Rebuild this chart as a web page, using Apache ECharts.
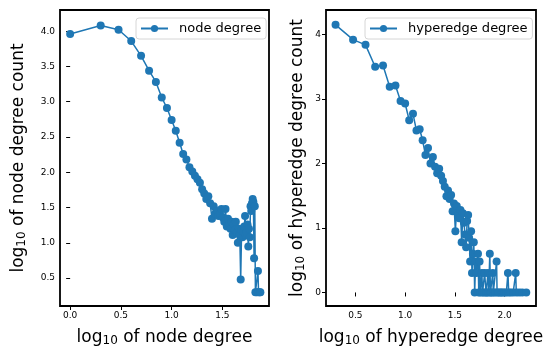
<!DOCTYPE html>
<html>
<head>
<meta charset="utf-8">
<script src="https://cdn.jsdelivr.net/npm/echarts@6/dist/echarts.min.js"></script>
<style>
  html, body { margin: 0; padding: 0; background: #fff; }
  #chart { width: 558px; height: 352px; }
</style>
</head>
<body>
<div id="chart"></div>
<script>
// left panel: log10(node degree) vs log10(count)
const nodeLogDegree = [
  0, 0.301, 0.477, 0.602, 0.699, 0.778, 0.845, 0.903, 0.954, 1,
  1.041, 1.079, 1.114, 1.146, 1.176, 1.204, 1.230, 1.255, 1.279, 1.301,
  1.322, 1.342, 1.362, 1.380, 1.398, 1.415, 1.431, 1.447, 1.462, 1.477,
  1.491, 1.505, 1.519, 1.531, 1.544, 1.556, 1.568, 1.580, 1.591, 1.602,
  1.613, 1.623, 1.633, 1.643, 1.653, 1.663, 1.672, 1.681, 1.690, 1.699,
  1.708, 1.716, 1.724, 1.732, 1.740, 1.748, 1.756, 1.763, 1.771, 1.778,
  1.785, 1.792, 1.799, 1.806, 1.813, 1.820, 1.826, 1.839, 1.851, 1.857,
  1.869, 1.875
];
const nodeLogCount = [
  3.96, 4.08, 4.02, 3.86, 3.65, 3.44, 3.28, 3.06, 2.91, 2.74,
  2.59, 2.42, 2.26, 2.18, 2.07, 2.01, 1.95, 1.90, 1.85, 1.76,
  1.70, 1.62, 1.66, 1.56, 1.34, 1.52, 1.41, 1.45, 1.38, 1.41,
  1.48, 1.36, 1.30, 1.48, 1.23, 1.34, 1.26, 1.20, 1.30, 1.11,
  1.26, 1.18, 1.30, 1.15, 1.00, 1.20, 1.11, 0.48, 1.18, 1.08,
  1.15, 1.23, 1.38, 1.11, 1.15, 1.26, 0.95, 1.20, 1.08, 1.52,
  1.45, 1.56, 1.62, 1.58, 0.78, 1.52, 0.30, 0.30, 0.60, 0.30,
  0.30, 0.30
];

// right panel: log10(hyperedge degree) vs log10(count)
const hyperLogDegree = [
  0.301, 0.477, 0.602, 0.699, 0.778, 0.845, 0.903, 0.954, 1, 1.041,
  1.079, 1.114, 1.146, 1.176, 1.204, 1.230, 1.255, 1.279, 1.301, 1.322,
  1.342, 1.362, 1.380, 1.398, 1.415, 1.431, 1.447, 1.462, 1.477, 1.491,
  1.505, 1.519, 1.531, 1.544, 1.556, 1.568, 1.580, 1.591, 1.602, 1.613,
  1.623, 1.633, 1.643, 1.653, 1.663, 1.672, 1.681, 1.690, 1.699, 1.708,
  1.716, 1.732, 1.740, 1.748, 1.756, 1.771, 1.778, 1.792, 1.799, 1.813,
  1.820, 1.833, 1.839, 1.851, 1.857, 1.869, 1.881, 1.886, 1.903, 1.919,
  1.924, 1.940, 1.954, 1.968, 1.982, 2.000, 2.017, 2.033, 2.041, 2.061,
  2.086, 2.111, 2.117, 2.146, 2.176, 2.217
];
const hyperLogCount = [
  4.15, 3.92, 3.84, 3.50, 3.52, 3.19, 3.21, 2.97, 2.93, 2.67,
  2.77, 2.51, 2.53, 2.36, 2.13, 2.24, 2.00, 2.10, 1.95, 1.85,
  1.92, 1.81, 1.73, 1.64, 1.49, 1.58, 1.45, 1.51, 1.26, 1.38,
  0.95, 1.34, 1.20, 1.15, 1.28, 0.78, 1.23, 1.08, 0.90, 0.70,
  1.11, 1.20, 0.85, 0.48, 0.95, 0.30, 0.60, 0.78, 0, 0.48,
  0.30, 0.60, 0, 0.48, 0, 0.30, 0, 0, 0.30, 0,
  0, 0.30, 0, 0.60, 0, 0, 0.30, 0, 0, 0.48,
  0, 0, 0, 0, 0, 0, 0, 0.30, 0, 0,
  0, 0.30, 0, 0, 0, 0
];

const nodeXTicks = [0, 0.5, 1, 1.5];
const nodeYTicks = [0.5, 1, 1.5, 2, 2.5, 3, 3.5, 4];
const hyperXTicks = [0.5, 1, 1.5, 2];
const hyperYTicks = [0, 1, 2, 3, 4];

const BLUE = '#1f77b4';
const FONT = 'DejaVu Sans';

const zip = (xs, ys) => xs.map((x, i) => [x, ys[i]]);

// axis title with a "10" subscript
const titleStyle = {
  fontFamily: FONT,
  rich: {
    a: { fontFamily: FONT, fontSize: 17, color: '#000', lineHeight: 18, verticalAlign: 'top' },
    s: { fontFamily: FONT, fontSize: 12, color: '#000', lineHeight: 12, verticalAlign: 'bottom', padding: [9, 0, 0, 0] }
  }
};

const makeAxis = (gridIndex, min, max, ticks, digits, extra) => Object.assign({
  type: 'value',
  gridIndex: gridIndex,
  min: min,
  max: max,
  nameLocation: 'middle',
  nameTextStyle: titleStyle,
  axisLine: { show: false },
  splitLine: { show: false },
  axisTick: { show: true, length: 4, customValues: ticks, lineStyle: { color: '#000', width: 1 } },
  axisLabel: {
    customValues: ticks,
    formatter: v => v.toFixed(digits),
    fontFamily: FONT, fontSize: 9, color: '#000', margin: 5
  }
}, extra);

const legendBox = (name, left) => ({
  data: [name],
  left: left,
  top: 18,
  orient: 'horizontal',
  itemWidth: 27,
  itemHeight: 9,
  padding: [4, 5, 4, 4],
  borderColor: '#d6d6d6',
  borderWidth: 1,
  borderRadius: 3,
  backgroundColor: 'rgba(255,255,255,0.8)',
  textStyle: { fontFamily: FONT, fontSize: 13, color: '#000', padding: [0, 0, 0, 6] }
});

const seriesStyle = {
  type: 'line',
  symbol: 'circle',
  symbolSize: 8,
  showSymbol: true,
  color: BLUE,
  lineStyle: { color: BLUE, width: 1.5 },
  itemStyle: { color: BLUE },
  animation: false
};

const chart = echarts.init(document.getElementById('chart'), null, { renderer: 'canvas' });
chart.setOption({
  animation: false,
  backgroundColor: '#fff',
  grid: [
    { left: 60, top: 10, width: 209, height: 300, show: true, borderColor: '#000', borderWidth: 1.8, backgroundColor: 'transparent' },
    { left: 326, top: 10, width: 210, height: 300, show: true, borderColor: '#000', borderWidth: 1.8, backgroundColor: 'transparent' }
  ],
  xAxis: [
    makeAxis(0, -0.1, 1.96, nodeXTicks, 1, { name: '{a|log}{s|10}{a| of node degree}', nameGap: 23 }),
    makeAxis(1, 0.205, 2.315, hyperXTicks, 1, { name: '{a|log}{s|10}{a| of hyperedge degree}', nameGap: 23 })
  ],
  yAxis: [
    makeAxis(0, 0.105, 4.3, nodeYTicks, 1, { name: '{a|log}{s|10}{a| of node degree count}', nameGap: 32, nameRotate: 90 }),
    makeAxis(1, -0.21, 4.38, hyperYTicks, 0, { name: '{a|log}{s|10}{a| of hyperedge degree count}', nameGap: 19, nameRotate: 90 })
  ],
  legend: [
    legendBox('node degree', 136),
    legendBox('hyperedge degree', 365)
  ],
  series: [
    Object.assign({ name: 'node degree', xAxisIndex: 0, yAxisIndex: 0, data: zip(nodeLogDegree, nodeLogCount) }, seriesStyle),
    Object.assign({ name: 'hyperedge degree', xAxisIndex: 1, yAxisIndex: 1, data: zip(hyperLogDegree, hyperLogCount) }, seriesStyle)
  ]
});
</script>
</body>
</html>
